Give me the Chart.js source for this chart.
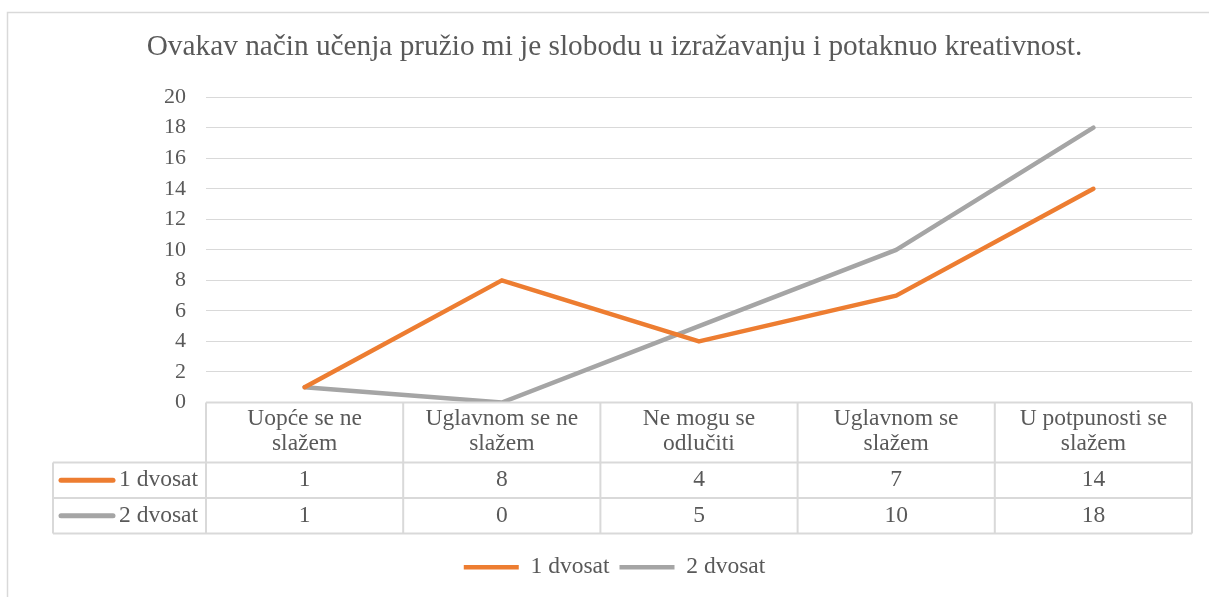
<!DOCTYPE html>
<html>
<head>
<meta charset="utf-8">
<script src="https://cdn.jsdelivr.net/npm/chart.js@4/dist/chart.umd.min.js"></script>
<style>
  html, body { margin: 0; padding: 0; background: #fff; }
  canvas { display: block; }
</style>
</head>
<body>
<canvas id="chart" width="1209" height="597"></canvas>
<script>
const categories = [
    ['Uopće se ne', 'slažem'],
    ['Uglavnom se ne', 'slažem'],
    ['Ne mogu se', 'odlučiti'],
    ['Uglavnom se', 'slažem'],
    ['U potpunosti se', 'slažem']
];
const seriesNames = ['1 dvosat', '2 dvosat'];
const series1 = [1, 8, 4, 7, 14];
const series2 = [1, 0, 5, 10, 18];
const seriesColors = ['#ed7d31', '#a5a5a5'];
const yMax = 20;
const yStep = 2;

const titleText = 'Ovakav način učenja pružio mi je slobodu u izražavanju i potaknuo kreativnost.';
const fontFamily = "'Liberation Serif', 'Times New Roman', serif";
const textColor = '#595959';
const lineColor = '#d9d9d9';
const tableFont = '23.5px ' + fontFamily;

// data table under the plot, drawn from the x scale's columns
const tablePlugin = {
    id: 'dataTable',
    afterDraw(chart) {
        const ctx = chart.ctx;
        const area = chart.chartArea;
        const xs = chart.scales.x;
        const n = categories.length;
        const colW = (area.right - area.left) / n;
        const top = area.bottom;
        const headerBottom = top + 60;
        const rowH = 35.5;
        const tableLeft = 53;
        const allSeries = [series1, series2];

        ctx.save();

        // outer chart frame
        ctx.strokeStyle = lineColor;
        ctx.lineWidth = 1.5;
        ctx.beginPath();
        ctx.moveTo(7.5, chart.height);
        ctx.lineTo(7.5, 12.5);
        ctx.lineTo(chart.width, 12.5);
        ctx.stroke();

        // table lines
        ctx.lineWidth = 2;
        ctx.beginPath();
        ctx.moveTo(area.left, top);
        ctx.lineTo(area.right, top);
        for (let r = 0; r <= allSeries.length; r++) {
            const y = headerBottom + r * rowH;
            ctx.moveTo(tableLeft, y);
            ctx.lineTo(area.right, y);
        }
        const bottom = headerBottom + allSeries.length * rowH;
        for (let i = 0; i <= n; i++) {
            const x = area.left + i * colW;
            ctx.moveTo(x, top);
            ctx.lineTo(x, bottom);
        }
        ctx.moveTo(tableLeft, headerBottom);
        ctx.lineTo(tableLeft, bottom);
        ctx.stroke();

        // header labels
        ctx.fillStyle = textColor;
        ctx.font = tableFont;
        ctx.textAlign = 'center';
        ctx.textBaseline = 'middle';
        categories.forEach((lines, i) => {
            const cx = xs.getPixelForValue(i);
            lines.forEach((line, j) => {
                ctx.fillText(line, cx, top + 16 + j * 25.5);
            });
        });

        // value rows
        allSeries.forEach((vals, r) => {
            const cy = headerBottom + r * rowH + rowH / 2;
            vals.forEach((v, i) => {
                ctx.fillText(String(v), xs.getPixelForValue(i), cy);
            });
            ctx.strokeStyle = seriesColors[r];
            ctx.lineWidth = 5;
            ctx.lineCap = 'round';
            ctx.beginPath();
            ctx.moveTo(61, cy);
            ctx.lineTo(113, cy);
            ctx.stroke();
            ctx.textAlign = 'right';
            ctx.fillText(seriesNames[r], area.left - 8, cy);
            ctx.textAlign = 'center';
        });

        ctx.restore();
    }
};

new Chart(document.getElementById('chart'), {
    type: 'line',
    data: {
        labels: categories.map(c => c.join(' ')),
        datasets: [
            {
                label: seriesNames[0],
                data: series1,
                borderColor: seriesColors[0],
                backgroundColor: seriesColors[0],
                borderWidth: 4.5,
                borderCapStyle: 'round',
                borderJoinStyle: 'round',
                pointRadius: 0,
                tension: 0,
                fill: false
            },
            {
                label: seriesNames[1],
                data: series2,
                borderColor: seriesColors[1],
                backgroundColor: seriesColors[1],
                borderWidth: 4.5,
                borderCapStyle: 'round',
                borderJoinStyle: 'round',
                pointRadius: 0,
                tension: 0,
                fill: false
            }
        ]
    },
    options: {
        responsive: false,
        animation: false,
        devicePixelRatio: 1,
        layout: { padding: { left: 37, right: 17, top: 0, bottom: 8 } },
        plugins: {
            title: {
                display: true,
                text: titleText,
                color: textColor,
                font: { family: fontFamily, size: 29.3, weight: 'normal' },
                padding: { top: 30, bottom: 32 }
            },
            legend: {
                display: true,
                position: 'bottom',
                labels: {
                    usePointStyle: true,
                    pointStyle: 'line',
                    pointStyleWidth: 55,
                    color: textColor,
                    font: { family: fontFamily, size: 23.5 },
                    padding: 10
                }
            },
            tooltip: { enabled: false }
        },
        scales: {
            x: {
                offset: true,
                grid: { display: false },
                border: { display: false },
                ticks: { display: false },
                afterFit: s => { s.height = 143; }
            },
            y: {
                min: 0,
                max: yMax,
                ticks: {
                    stepSize: yStep,
                    padding: 20,
                    color: textColor,
                    font: { family: fontFamily, size: 22 }
                },
                grid: { color: lineColor, lineWidth: 1, drawTicks: false },
                border: { display: false },
                afterFit: s => { s.width = 169; }
            }
        }
    },
    plugins: [tablePlugin]
});
</script>
</body>
</html>
